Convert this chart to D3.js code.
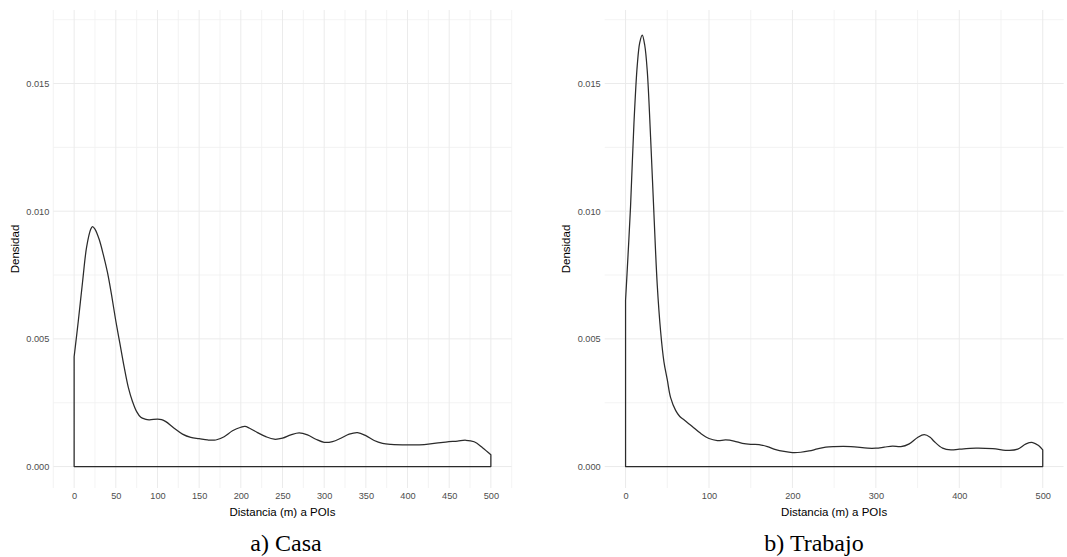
<!DOCTYPE html>
<html>
<head>
<meta charset="utf-8">
<script src="https://cdn.jsdelivr.net/npm/d3@7"></script>
<style>
  html, body { margin: 0; padding: 0; background: #fff; }
  svg { display: block; }
</style>
</head>
<body>
<svg id="chart" width="1067" height="557"></svg>
<script>
// ---- data ----
const casaDist = [0,5,10,15,20,22,25,30,35,40,45,50,55,60,65,70,75,80,85,90,100,105,110,120,130,140,150,160,170,180,190,200,205,210,220,230,240,250,260,270,280,290,300,310,320,330,340,350,360,370,380,400,420,440,460,470,480,490,500];
const casaDens = [0.0043,0.0057,0.0072,0.0086,0.0093,0.0094,0.0093,0.0089,0.0083,0.0076,0.0067,0.0057,0.0048,0.0039,0.0031,0.00255,0.00215,0.00193,0.00186,0.00183,0.00186,0.00184,0.00176,0.0015,0.00127,0.00114,0.00109,0.00104,0.00104,0.00117,0.0014,0.00154,0.00157,0.00151,0.00133,0.00117,0.00107,0.00111,0.00124,0.00132,0.00124,0.00107,0.00095,0.00098,0.00111,0.00127,0.00133,0.00121,0.00102,0.00091,0.00087,0.00085,0.00086,0.00094,0.001,0.00103,0.00097,0.00074,0.00046];

const trabajoDist = [0,3,6,10,14,17,20,23,26,30,34,38,42,46,50,54,60,65,70,75,80,90,100,110,120,130,140,150,160,170,180,190,200,210,220,230,240,250,270,290,300,310,320,330,340,350,358,365,370,380,390,400,420,440,460,470,480,488,495,500];
const trabajoDens = [0.0065,0.0083,0.0102,0.0134,0.0157,0.0166,0.0169,0.0165,0.0155,0.0129,0.0099,0.0071,0.0053,0.0041,0.0034,0.0027,0.0022,0.00196,0.00183,0.0017,0.00157,0.0013,0.0011,0.00102,0.00104,0.001,0.00091,0.00087,0.00086,0.00078,0.00066,0.00059,0.00055,0.00056,0.00061,0.00069,0.00076,0.00078,0.00078,0.00072,0.00072,0.00076,0.0008,0.00078,0.00089,0.00114,0.00125,0.00115,0.00098,0.00072,0.00065,0.00068,0.00072,0.0007,0.00063,0.00068,0.00089,0.00094,0.00082,0.00065];

const yTicks = [0, 0.005, 0.010, 0.015];
const yMinor = [0.0025, 0.0075, 0.0125, 0.0175];
const casaXTicks = [0,50,100,150,200,250,300,350,400,450,500];
const casaXMinor = [-25,25,75,125,175,225,275,325,375,425,475,525];
const trabajoXTicks = [0,100,200,300,400,500];
const trabajoXMinor = [50,150,250,350,450];
const xTitle = "Distancia (m) a POIs";
const yTitle = "Densidad";
const captions = ["a) Casa", "b) Trabajo"];

// ---- drawing ----
const svg = d3.select("#chart");
const sans = "'Liberation Sans', Arial, Helvetica, sans-serif";

function panel(cfg) {
  const x = d3.scaleLinear().domain([-25, 525]).range([cfg.left, cfg.right]);
  const y = d3.scaleLinear().domain([-0.00084, 0.01788]).range([488, 10]);
  const g = svg.append("g");

  // minor grid
  g.selectAll(".ymin").data(yMinor).join("line")
    .attr("x1", cfg.left).attr("x2", cfg.right)
    .attr("y1", d => y(d)).attr("y2", d => y(d))
    .attr("stroke", "#f0f0f0").attr("stroke-width", 0.8);
  g.selectAll(".xmin").data(cfg.xMinor).join("line")
    .attr("y1", 10).attr("y2", 488)
    .attr("x1", d => x(d)).attr("x2", d => x(d))
    .attr("stroke", "#f0f0f0").attr("stroke-width", 0.8);
  // major grid
  g.selectAll(".ymaj").data(yTicks).join("line")
    .attr("x1", cfg.left).attr("x2", cfg.right)
    .attr("y1", d => y(d)).attr("y2", d => y(d))
    .attr("stroke", "#ebebeb").attr("stroke-width", 1);
  g.selectAll(".xmaj").data(cfg.xTicks).join("line")
    .attr("y1", 10).attr("y2", 488)
    .attr("x1", d => x(d)).attr("x2", d => x(d))
    .attr("stroke", "#ebebeb").attr("stroke-width", 1);

  // axes (no lines, only labels)
  const yAxis = d3.axisLeft(y).tickValues(yTicks).tickFormat(d3.format(".3f")).tickSize(0).tickPadding(4);
  const ya = g.append("g").attr("transform", `translate(${cfg.left},0)`).call(yAxis);
  ya.select(".domain").remove();
  ya.selectAll("text").attr("font-family", sans).attr("font-size", 9.2).attr("fill", "#4d4d4d");

  const xAxis = d3.axisBottom(x).tickValues(cfg.xTicks).tickFormat(d3.format("d")).tickSize(0).tickPadding(4);
  const xa = g.append("g").attr("transform", `translate(0,488)`).call(xAxis);
  xa.select(".domain").remove();
  xa.selectAll("text").attr("font-family", sans).attr("font-size", 9.2).attr("fill", "#4d4d4d");

  // density outline
  const area = d3.area()
    .x(d => x(d[0]))
    .y0(y(0))
    .y1(d => y(d[1]))
    .curve(d3.curveCatmullRom.alpha(0.5));
  const pts = cfg.dist.map((d, i) => [d, cfg.dens[i]]);
  g.append("path").datum(pts)
    .attr("d", area)
    .attr("fill", "none")
    .attr("stroke", "#2b2b2b")
    .attr("stroke-width", 1.25)
    .attr("stroke-linejoin", "round");

  // titles
  g.append("text")
    .attr("x", (cfg.left + cfg.right) / 2).attr("y", 516)
    .attr("text-anchor", "middle")
    .attr("font-family", sans).attr("font-size", 11.5).attr("fill", "#000")
    .text(xTitle);
  g.append("text")
    .attr("transform", `translate(${cfg.ytx},249) rotate(-90)`)
    .attr("text-anchor", "middle")
    .attr("font-family", sans).attr("font-size", 11.5).attr("fill", "#000")
    .text(yTitle);
  g.append("text")
    .attr("x", cfg.capX).attr("y", 551)
    .attr("text-anchor", "middle")
    .attr("font-family", "'Liberation Serif', 'Times New Roman', serif")
    .attr("font-size", 24).attr("fill", "#000")
    .text(cfg.caption);
}

panel({left: 53.3, right: 511.7, dist: casaDist, dens: casaDens,
       xTicks: casaXTicks, xMinor: casaXMinor, ytx: 18.5, capX: 286, caption: captions[0]});
panel({left: 604.7, right: 1063.6, dist: trabajoDist, dens: trabajoDens,
       xTicks: trabajoXTicks, xMinor: trabajoXMinor, ytx: 570, capX: 814, caption: captions[1]});
</script>
</body>
</html>
